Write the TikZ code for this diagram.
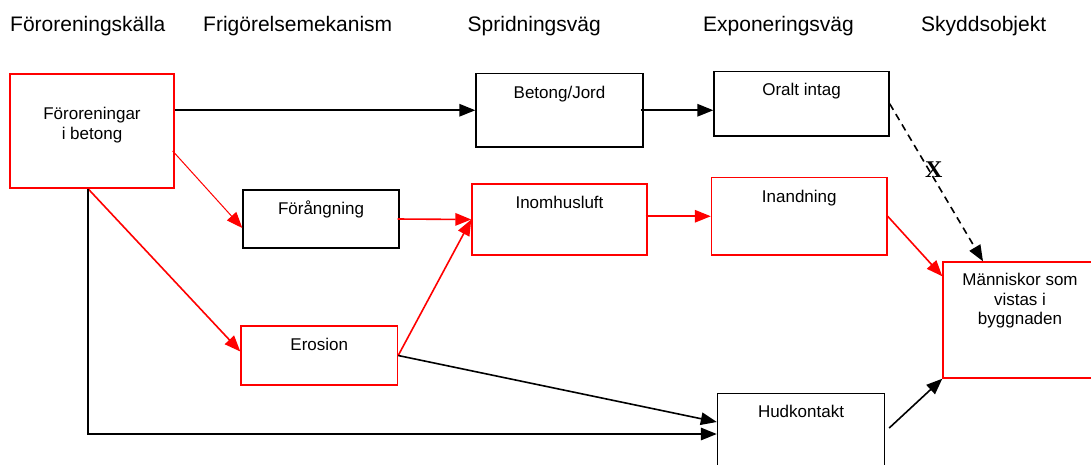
\documentclass[tikz,border=0pt]{standalone}
\usepackage{fontspec}
\setmainfont{Liberation Sans}
\newfontfamily\xfont{Liberation Serif}
\usetikzlibrary{arrows.meta, positioning}

\begin{document}
\begin{tikzpicture}[x=1pt, y=-1pt,
    head/.style={font=\fontsize{21}{25}\selectfont, anchor=base west,
        inner sep=0pt},
    txt/.style={font=\fontsize{17}{19.5}\selectfont, align=center,
        inner sep=0pt, anchor=base},
    bbox/.style={draw=black, line width=1.4pt, inner sep=0pt},
    rbox/.style={draw=red, line width=1.4pt, inner sep=0pt},
    blk/.style={draw=black, line width=1.6pt, -{Triangle[length=16pt,width=12.5pt]}},
    rd/.style={draw=red, line width=1.6pt, -{Triangle[length=16pt,width=12.5pt]}}]
    \clip (0,0) rectangle (1091,464);

    % rubriker
    \node[head] (h1) at (10,31) {Föroreningskälla};
    \node[head] (h2) at (203,31) {Frigörelsemekanism};
    \node[head] (h3) at (467.5,31) {Spridningsväg};
    \node[head] (h4) at (703,31) {Exponeringsväg};
    \node[head] (h5) at (921,31) {Skyddsobjekt};

    % rutor
    \node[rbox, minimum width=164pt, minimum height=114pt,
        label={[txt, yshift=-66pt]north:Föroreningar\\i betong}] (kalla) at (92,131) {};
    \node[bbox, minimum width=167pt, minimum height=73.5pt,
        label={[txt, yshift=-25.8pt]north:Betong/Jord}] (betong) at (559.5,110.25) {};
    \node[bbox, minimum width=175pt, minimum height=64.5pt,
        label={[txt, yshift=-24.5pt]north:Oralt intag}] (oralt) at (801.5,103.75) {};
    \node[bbox, minimum width=156pt, minimum height=58pt,
        label={[txt, yshift=-25pt]north:Förångning}] (forang) at (321,219) {};
    \node[rbox, minimum width=175pt, minimum height=71pt,
        label={[txt, yshift=-25.3pt]north:Inomhusluft}] (inomhus) at (559.5,219.5) {};
    \node[rbox, minimum width=175.5pt, minimum height=77.5pt,
        label={[txt, yshift=-25.2pt]north:Inandning}] (inand) at (799.25,216.25) {};
    \node[rbox, minimum width=154pt, minimum height=116pt,
        label={[txt, yshift=-63.5pt]north:Människor som\\vistas i\\byggnaden}] (manniskor) at (1020,320) {};
    \node[rbox, minimum width=156.5pt, minimum height=59pt,
        label={[txt, yshift=-25.5pt]north:Erosion}] (erosion) at (319.25,355.5) {};
    \node[bbox, minimum width=167pt, minimum height=81pt,
        label={[txt, yshift=-24.8pt]north:Hudkontakt}] (hud) at (801,434) {};

    % pilar
    \draw[blk] (kalla.east |- betong.west) -- (betong.west);
    \draw[blk] ([xshift=-3pt]betong.east) -- (oralt.west |- betong.east);
    \draw[blk, dash pattern=on 7pt off 5pt] (oralt.east) --
        node[pos=0.42, xshift=5pt, font=\xfont\bfseries\fontsize{24}{24}\selectfont] (kryss) {X}
        ([xshift=-37pt]manniskor.north);
    \draw[rd, line width=1pt] ([xshift=-2pt,yshift=-20pt]kalla.east) -- ([yshift=-9pt]forang.west);
    \draw[rd] ([xshift=-4pt]kalla.south) -- ([yshift=4pt]erosion.west);
    \draw[blk] ([xshift=-4pt]kalla.south) |- (hud.west);
    \draw[rd] ([xshift=-2pt]forang.east) -- (inomhus.west);
    \draw[rd] (erosion.east) -- (inomhus.west);
    \draw[blk] (erosion.east) -- ([yshift=12pt]hud.west);
    \draw[rd] ([xshift=-2pt]inomhus.east |- inand.west) -- (inand.west);
    \draw[rd] (inand.east) -- ([yshift=-15pt]manniskor.north west);
    \draw[blk] ([xshift=4pt,yshift=6pt]hud.east) -- (manniskor.south west);

\end{tikzpicture}
\end{document}
